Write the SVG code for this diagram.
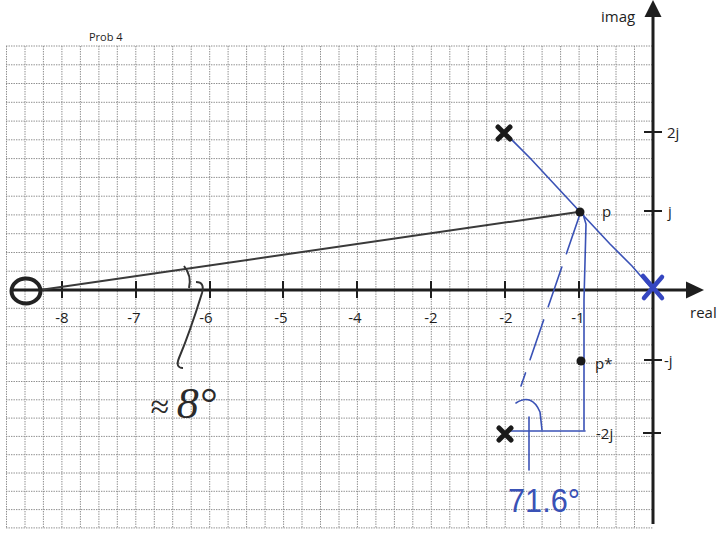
<svg xmlns="http://www.w3.org/2000/svg" width="722" height="537" viewBox="0 0 722 537">
<defs>
<style>
.grid{stroke:#8c8c8c;stroke-width:1;stroke-dasharray:1.4 1.1;fill:none}
.axis{stroke:#1e1e1e;stroke-width:3;fill:none}
.tick{stroke:#1e1e1e;stroke-width:2;fill:none}
.lbl{font-family:"Open Sans","Liberation Sans",Arial,sans-serif;font-size:15px;fill:#1e1e1e}
.blue{stroke:#3a52b6;stroke-width:1.6;fill:none;stroke-linecap:round}
.xk{stroke:#1a1a1a;stroke-width:5;stroke-linecap:round;fill:none}
</style>
</defs>
<rect width="722" height="537" fill="#ffffff"/>
<g id="grid">
<path class="grid" d="M6.5,46V528M25,46V528M43.4,46V528M61.9,46V528M80.4,46V528M98.9,46V528M117.3,46V528M135.8,46V528M154.3,46V528M172.7,46V528M191.2,46V528M209.7,46V528M228.1,46V528M246.6,46V528M265.1,46V528M283.6,46V528M302,46V528M320.5,46V528M339,46V528M357.4,46V528M375.9,46V528M394.4,46V528M412.8,46V528M431.3,46V528M449.8,46V528M468.3,46V528M486.7,46V528M505.2,46V528M523.7,46V528M542.1,46V528M560.6,46V528M579.1,46V528M597.5,46V528M616,46V528M634.5,46V528"/>
<path class="grid" d="M6,46H653M6,64.8H653M6,83.5H653M6,102.3H653M6,121.1H653M6,139.8H653M6,158.6H653M6,177.4H653M6,196.2H653M6,214.9H653M6,233.7H653M6,252.5H653M6,271.2H653M6,308.3H653M6,326.6H653M6,344.9H653M6,363.2H653M6,381.5H653M6,399.8H653M6,418.1H653M6,436.4H653M6,454.7H653M6,473H653M6,491.3H653M6,509.6H653M6,527.9H653"/>
</g>
<text class="lbl" x="89" y="41" style="font-size:11px">Prob 4</text>
<g id="axes">
<path class="axis" d="M12,290H688"/>
<polygon points="704,290 686,281.5 686,298.5" fill="#1e1e1e"/>
<path class="axis" d="M653,524V14"/>
<polygon points="653,0 644.5,17 661.5,17" fill="#1e1e1e"/>
<path class="tick" d="M62,281V298M136,281V298M210,281V298M283,281V298M357,281V298M431,281V298M505,281V298M579,281V298"/>
<path class="tick" d="M644,132H662M644,211H662M644,360H662M643,433H661"/>
<text class="lbl" x="601" y="22">imag</text>
<text class="lbl" x="690" y="318">real</text>
<g text-anchor="middle">
<text class="lbl" x="62" y="323">-8</text>
<text class="lbl" x="134" y="323">-7</text>
<text class="lbl" x="206" y="323">-6</text>
<text class="lbl" x="281" y="323">-5</text>
<text class="lbl" x="355" y="323">-4</text>
<text class="lbl" x="431" y="323">-2</text>
<text class="lbl" x="506" y="323">-2</text>
<text class="lbl" x="578" y="323">-1</text>
</g>
<text class="lbl" x="667" y="138">2j</text>
<text class="lbl" x="668" y="217">j</text>
<text class="lbl" x="664" y="366">-j</text>
<text class="lbl" x="596" y="439">-2j</text>
</g>
<g id="connectors">
<path d="M40,290L578,212" stroke="#3a3a3a" stroke-width="2" fill="none"/>
<path class="blue" d="M506,134L530,158L556,186L582,214L610,244L632,266L652,289"/>
<path class="blue" d="M583,214L586,224L584,300L584,430"/>
<path class="blue" d="M508,431H585"/>
<path class="blue" d="M580,214L521,386" stroke-dasharray="42 14"/>
<path class="blue" d="M516,403Q532,393 540,412L542,430" stroke-width="2"/>
<path class="blue" d="M529,417V470" stroke-width="2"/>
</g>
<g id="zero">
<ellipse cx="26" cy="291" rx="14.5" ry="12.5" fill="none" stroke="#222" stroke-width="4"/>
</g>
<g id="pole-upper">
<path class="xk" d="M498,127L510,139M510,127L498,139"/>
</g>
<g id="pole-lower">
<path class="xk" d="M499,428L511,440M511,428L499,440"/>
</g>
<g id="pole-origin">
<path d="M643,276L662,298M662,277L644,298" stroke="#3546c0" stroke-width="4.5" stroke-linecap="round" fill="none"/>
</g>
<g id="point-p">
<circle cx="580" cy="212" r="4.5" fill="#1a1a1a"/>
<text class="lbl" x="602" y="217">p</text>
</g>
<g id="point-pstar">
<circle cx="581" cy="361" r="4.5" fill="#1a1a1a"/>
<text class="lbl" x="595" y="369">p*</text>
</g>
<g id="angle-8">
<path d="M184,266Q192,276 189,288" stroke="#333" stroke-width="2" fill="none"/>
<path d="M196,282Q205,282 202,293Q190,332 179,358Q175,368 183,368" stroke="#333" stroke-width="2" fill="none"/>
<text x="150" y="418" fill="#2a2a2a" font-family="'Liberation Serif',serif" font-style="italic"><tspan font-size="34">≈</tspan><tspan font-size="44" dx="8">8°</tspan></text>
</g>
<g id="angle-71">
<text x="508" y="512" fill="#3a52b6" font-family="'Liberation Sans',sans-serif" font-size="34" textLength="72" lengthAdjust="spacingAndGlyphs">71.6°</text>
</g>
</svg>
